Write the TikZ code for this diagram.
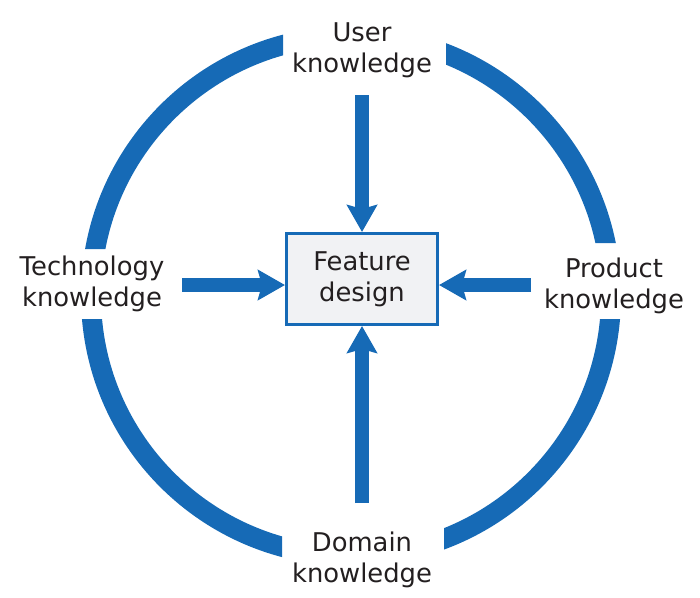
\documentclass[tikz,border=0pt]{standalone}
\usepackage{fontspec}
\setmainfont{DejaVu Sans}
\usetikzlibrary{arrows.meta}
\definecolor{kblue}{RGB}{22,106,182}
\definecolor{ktext}{RGB}{35,31,32}
\definecolor{kfill}{RGB}{241,242,244}
\begin{document}
\begin{tikzpicture}[x=1pt,y=-1pt,
  lbl/.style={align=center, text=ktext, inner sep=0pt, font=\fontsize{25.8}{31}\selectfont},
  featbox/.style={draw=kblue, line width=3pt, fill=kfill, minimum width=151pt, minimum height=91pt, inner sep=0pt, align=center, text=ktext, font=\fontsize{25.8}{31}\selectfont},
  flow/.style={draw=kblue, line width=14pt, -{Triangle[length=27pt,width=30pt,inset=4pt]}},
  ring/.style={draw=kblue, line width=20pt}]
\useasboundingbox (0,0) rectangle (700,597);
% ring, interrupted where the labels sit
\coordinate (ctr) at (351,296);
\begin{scope}[even odd rule]
  \clip (-20,-20) rectangle (720,620)
    (283,-10) rectangle (446,90)
    (282,490) rectangle (444,610)
    (-10,249) rectangle (150,319)
    (560,243) rectangle (710,319);
  \draw[ring] (ctr) circle[radius=260];
\end{scope}
% central box
\node[featbox] (feat) at (362,279) {Feature\\design};
% labels
\node[lbl] (user) at (362,50) {User\\knowledge};
\node[lbl] (tech) at (92,284) {Technology\\knowledge};
\node[lbl] (prod) at (614,286) {Product\\knowledge};
\node[lbl] (dom) at (362,560) {Domain\\knowledge};
% arrow tails
\coordinate (tu) at (362,95);
\coordinate (tb) at (362,503);
\coordinate (tl) at (182,285);
\coordinate (tr) at (531,285);
\draw[flow] (tu) -- (feat.north);
\draw[flow] (tb) -- (feat.south);
\draw[flow] (tl) -- (tl -| feat.west);
\draw[flow] (tr) -- (tr -| feat.east);
\end{tikzpicture}
\end{document}
